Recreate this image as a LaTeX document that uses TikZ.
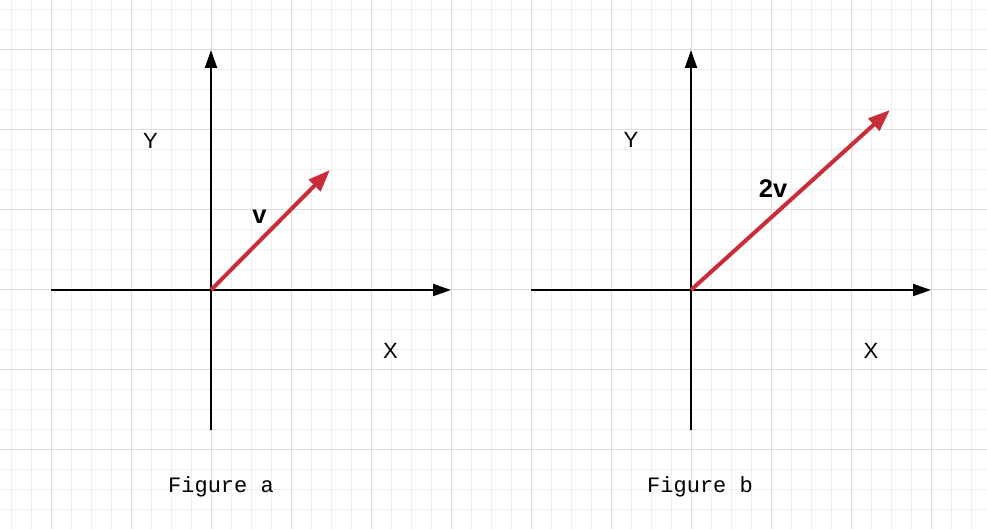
\documentclass[tikz,border=0pt]{standalone}
\usepackage{fontspec}
\setmainfont{Liberation Sans}
\setmonofont{Liberation Mono}
\usetikzlibrary{arrows.meta,positioning}
\definecolor{vecred}{RGB}{201,45,57}
\definecolor{gridminor}{RGB}{238,238,238}
\definecolor{gridmajor}{RGB}{220,220,220}

\begin{document}
\begin{tikzpicture}[
  x=1pt, y=-1pt,
  every node/.style={inner sep=0pt},
  minorline/.style={gridminor, line width=1pt},
  majorline/.style={gridmajor, line width=1pt},
  axis/.style={-{Triangle[length=18pt,width=12pt]}, line width=2pt},
  vector/.style={-{Triangle[length=22pt,width=16pt]}, vecred, line width=4pt},
  axislabel/.style={font=\fontsize{22}{22}\selectfont},
  veclabel/.style={font=\fontsize{25.5}{25.5}\selectfont\bfseries},
  caption/.style={font=\fontsize{22}{22}\selectfont\ttfamily, anchor=base}
]
\useasboundingbox[fill=white] (0,0) rectangle (987,529);

% Background grid.
\foreach \gx in {11.5,31.5,...,991.5}
  \draw[minorline] (\gx,0) -- (\gx,529);
\foreach \gy in {9.5,29.5,...,529.5}
  \draw[minorline] (0,\gy) -- (987,\gy);
\foreach \gx in {51.5,131.5,...,931.5}
  \draw[majorline] (\gx,0) -- (\gx,529);
\foreach \gy in {49.5,129.5,...,449.5}
  \draw[majorline] (0,\gy) -- (987,\gy);

% Figure a.
\coordinate (oa) at (211,290);
\coordinate (ybota) at (211,430);
\coordinate (ytopa) at (211,50);
\coordinate (xlefta) at (51,290);
\coordinate (xrighta) at (451,290);
\coordinate (vtipa) at (330,170);
\draw[axis] (ybota) -- (ytopa);
\draw[axis] (xlefta) -- (xrighta);
\draw[vector] (oa) -- (vtipa);
\node[axislabel] (ylaba) at (150.5,140.5) {Y};
\node[axislabel] (xlaba) at (390.5,351) {X};
\node[veclabel] (vlaba) at (259.5,217) {v};
\node[caption] (capa) at (221,492) {Figure a};

% Figure b.
\coordinate (ob) at (691,290);
\coordinate (ybotb) at (691,430);
\coordinate (ytopb) at (691,50);
\coordinate (xleftb) at (531,290);
\coordinate (xrightb) at (931,290);
\coordinate (vtipb) at (890,110);
\draw[axis] (ybotb) -- (ytopb);
\draw[axis] (xleftb) -- (xrightb);
\draw[vector] (ob) -- (vtipb);
\node[axislabel] (ylabb) at (631,140) {Y};
\node[axislabel] (xlabb) at (871,351) {X};
\node[veclabel] (vlabb) at (773,189) {2v};
\node[caption] (capb) at (700,492) {Figure b};
\end{tikzpicture}
\end{document}
